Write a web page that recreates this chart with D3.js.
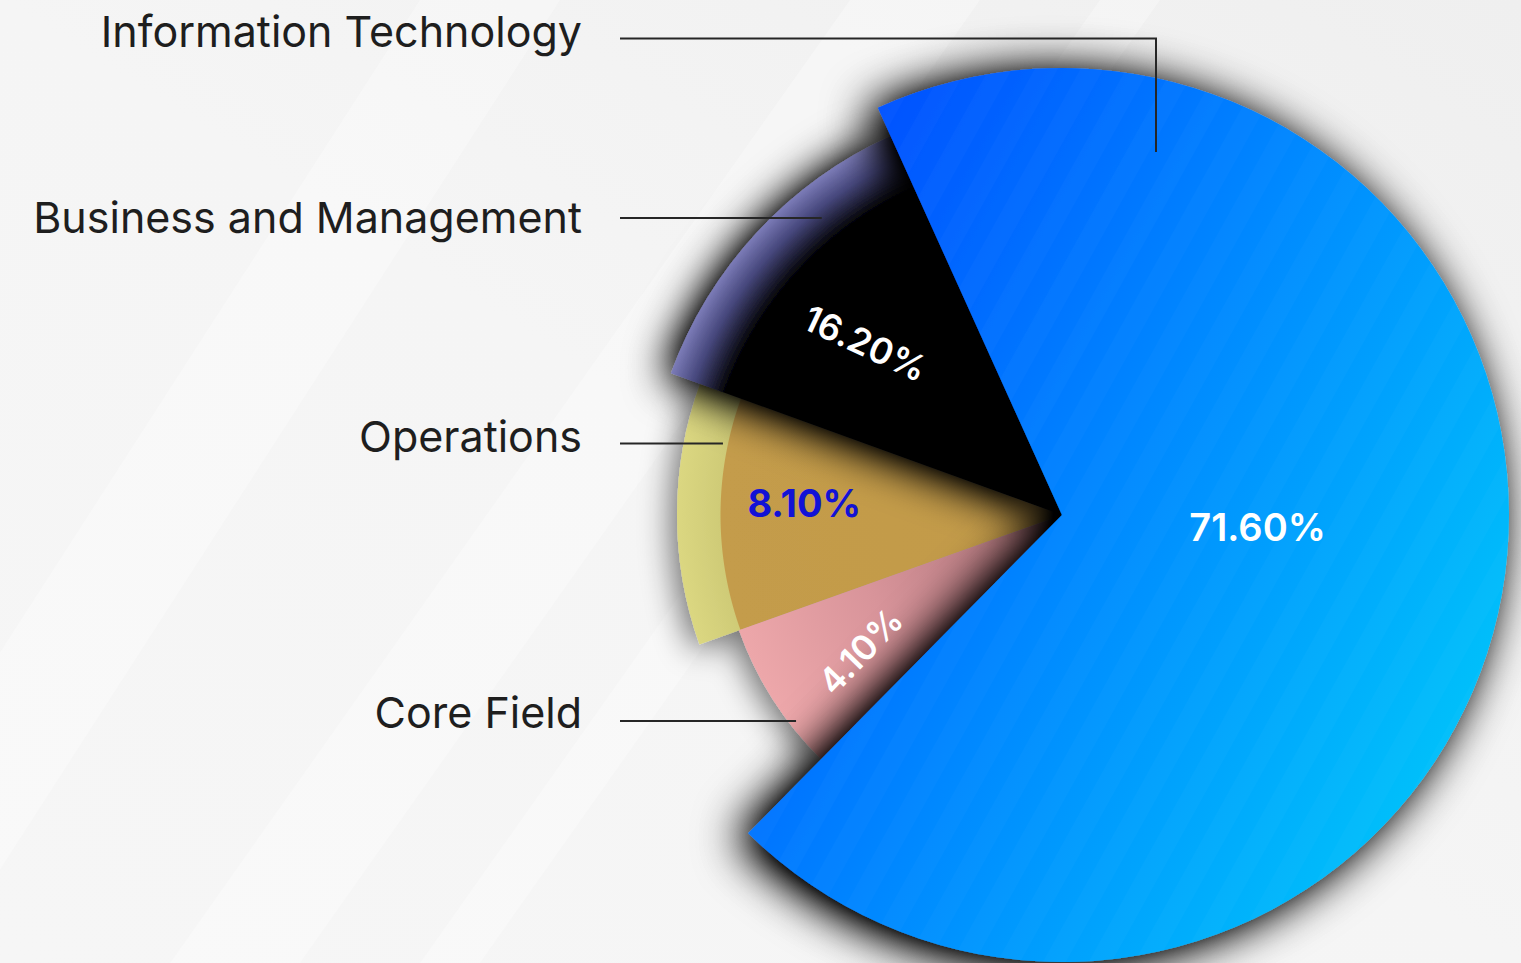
<!DOCTYPE html>
<html>
<head>
<meta charset="utf-8">
<script src="https://cdn.jsdelivr.net/npm/d3@7"></script>
<style>
  html, body { margin: 0; padding: 0; overflow: hidden; background: #f4f4f4; }
  svg { display: block; }
</style>
</head>
<body>
<svg id="chart"></svg>
<script>
//// DATA (slices listed clockwise, starting at the big blue one)

const categories = ["Information Technology", "Core Field", "Operations", "Business and Management"]
// the percentages printed on the slices
const shares = [71.6, 4.1, 8.1, 16.2]
const sweeps = [69.15, 7.15, 10.99, 12.71]
// the order in which the outer labels are stacked down the left side
const labelOrder = ["Information Technology", "Business and Management", "Operations", "Core Field"]

//// LAYOUT

const W = 1521, H = 963
const cx = 1062, cy = 515
const startDeg = -24.33
const rad = deg => deg * Math.PI / 180

// every slice has its own radius
const radius = d3.scaleOrdinal()
  .domain(categories)
  .range([447, 343, 385, 416])

// where the percentage sits (polar, around the centre) and how it is tilted
const valueLabel = {
  "Information Technology":  {deg: 93.5,  r: 196, tilt: 0,   color: "#fff",    size: 38, weight: 600},
  "Core Field":              {deg: -124,  r: 243, tilt: -46, color: "#fff",    size: 35, weight: 600},
  "Operations":              {deg: -87.3, r: 258, tilt: 0,   color: "#1212d6", size: 38, weight: 700},
  "Business and Management": {deg: -48.9, r: 261, tilt: 25,  color: "#fff",    size: 36, weight: 600}
}

// leader lines: y of the horizontal run and how deep into the slice it goes
const leader = {
  "Information Technology":  {y: 38.5, elbowX: 1156, endY: 152, textY: 47},
  "Business and Management": {y: 218,  endR: 382, textY: 233},
  "Operations":              {y: 443.5, endR: 346.5, textY: 452},
  "Core Field":              {y: 721,  endR: 336.4, textY: 728}
}

const svg = d3.select("#chart").attr("width", W).attr("height", H)
const defs = svg.append("defs")

//// BACKGROUND

const bg = defs.append("linearGradient").attr("id", "bg")
  .attr("x1", 0).attr("y1", 1).attr("x2", 1).attr("y2", 0)
bg.append("stop").attr("offset", 0).attr("stop-color", "#f6f6f6")
bg.append("stop").attr("offset", 0.5).attr("stop-color", "#f5f5f5")
bg.append("stop").attr("offset", 1).attr("stop-color", "#efefef")

svg.append("rect").attr("width", W).attr("height", H).attr("fill", "url(#bg)")

// faint light streaks running up to the right
const streaks = [
  [[170, 963], [300, 963], [980, 0], [850, 0]],
  [[420, 963], [480, 963], [1160, 0], [1100, 0]],
  [[-200, 963], [-60, 963], [560, 0], [420, 0]]
]
svg.selectAll(".streak")
  .data(streaks)
  .join("path")
  .attr("class", "streak")
  .attr("d", d => d3.line()(d) + "Z")
  .attr("fill", "#ffffff")
  .attr("opacity", 0.3)

//// GRADIENTS, PATTERNS AND SHADOWS

// blue slice: linear gradient roughly perpendicular to its stripes
const u = [Math.cos(rad(29)), Math.sin(rad(29))]
const itGrad = defs.append("linearGradient").attr("id", "itGrad")
  .attr("gradientUnits", "userSpaceOnUse")
  .attr("x1", -360 * u[0]).attr("y1", -360 * u[1])
  .attr("x2", 500 * u[0]).attr("y2", 500 * u[1])
itGrad.append("stop").attr("offset", 0).attr("stop-color", "#0052ff")
itGrad.append("stop").attr("offset", 0.45).attr("stop-color", "#0088ff")
itGrad.append("stop").attr("offset", 1).attr("stop-color", "#00c6fa")

const stripes = defs.append("pattern").attr("id", "stripes")
  .attr("patternUnits", "userSpaceOnUse")
  .attr("width", 40).attr("height", 40)
  .attr("patternTransform", "rotate(29)")
stripes.append("rect").attr("width", 20).attr("height", 40)
  .attr("fill", "#ffffff").attr("opacity", 0.02)

// business slice: black core with a slate-blue rim
const bizGrad = defs.append("radialGradient").attr("id", "bizGrad")
  .attr("gradientUnits", "userSpaceOnUse")
  .attr("cx", 0).attr("cy", 0).attr("r", radius("Business and Management"))
bizGrad.append("stop").attr("offset", 0).attr("stop-color", "#000")
bizGrad.append("stop").attr("offset", 0.86).attr("stop-color", "#000")
bizGrad.append("stop").attr("offset", 0.94).attr("stop-color", "#46477c")
bizGrad.append("stop").attr("offset", 1).attr("stop-color", "#7c7cb8")

// operations slice: ochre inside, pale yellow outer ring
const opsR = radius("Operations")
const opsGrad = defs.append("radialGradient").attr("id", "opsGrad")
  .attr("gradientUnits", "userSpaceOnUse")
  .attr("cx", 0).attr("cy", 0).attr("r", opsR)
opsGrad.append("stop").attr("offset", 0).attr("stop-color", "#c29a48")
opsGrad.append("stop").attr("offset", 341 / opsR).attr("stop-color", "#c49c4b")
opsGrad.append("stop").attr("offset", 342 / opsR).attr("stop-color", "#cfcb77")
opsGrad.append("stop").attr("offset", 1).attr("stop-color", "#dbd781")

const coreGrad = defs.append("radialGradient").attr("id", "coreGrad")
  .attr("gradientUnits", "userSpaceOnUse")
  .attr("cx", 0).attr("cy", 0).attr("r", radius("Core Field"))
coreGrad.append("stop").attr("offset", 0).attr("stop-color", "#a87076")
coreGrad.append("stop").attr("offset", 0.6).attr("stop-color", "#d8949a")
coreGrad.append("stop").attr("offset", 1).attr("stop-color", "#eda7aa")

// blurred alpha, pushed darker with a steeper alpha curve
function mkShadow(id, dx, dy, blur, strength) {
  const f = defs.append("filter").attr("id", id)
    .attr("x", "-30%").attr("y", "-30%").attr("width", "160%").attr("height", "160%")
  f.append("feGaussianBlur").attr("in", "SourceAlpha").attr("stdDeviation", blur).attr("result", "b")
  f.append("feOffset").attr("in", "b").attr("dx", dx).attr("dy", dy).attr("result", "o")
  f.append("feComponentTransfer").attr("in", "o").attr("result", "s")
    .append("feFuncA").attr("type", "linear").attr("slope", strength)
  const m = f.append("feMerge")
  m.append("feMergeNode").attr("in", "s")
  m.append("feMergeNode").attr("in", "SourceGraphic")
}
mkShadow("shadowBig", -11, 4, 24, 1.4)
mkShadow("shadowMid", -6, 3, 22, 1.4)
mkShadow("shadowSoft", -6, 6, 16, 0.55)

const fills = {
  "Information Technology": "url(#itGrad)",
  "Core Field": "url(#coreGrad)",
  "Operations": "url(#opsGrad)",
  "Business and Management": "url(#bizGrad)"
}

//// PIE

const rows = categories.map((name, i) => ({name, share: shares[i], sweep: sweeps[i]}))

const pie = d3.pie()
  .sort(null)
  .value(d => d.sweep)
  .startAngle(rad(startDeg))
  .endAngle(rad(startDeg) + 2 * Math.PI)

const slices = pie(rows)
const byName = new Map(slices.map(s => [s.data.name, s]))

const arc = d3.arc()
  .innerRadius(0)
  .outerRadius(d => radius(d.data.name))

const chart = svg.append("g").attr("transform", `translate(${cx},${cy})`)

// the two small slices share one soft shadow underneath
chart.append("g")
  .attr("filter", "url(#shadowSoft)")
  .selectAll("path")
  .data([byName.get("Operations"), byName.get("Core Field")])
  .join("path")
  .attr("d", arc)
  .attr("fill", d => fills[d.data.name])

chart.append("path")
  .datum(byName.get("Business and Management"))
  .attr("d", arc)
  .attr("fill", d => fills[d.data.name])
  .attr("filter", "url(#shadowMid)")

const it = byName.get("Information Technology")
chart.append("path")
  .datum(it)
  .attr("d", arc)
  .attr("fill", fills[it.data.name])
  .attr("filter", "url(#shadowBig)")
chart.append("path")
  .datum(it)
  .attr("d", arc)
  .attr("fill", "url(#stripes)")

//// LEADER LINES AND CATEGORY LABELS

const leaders = svg.append("g")
labelOrder.forEach(name => {
  const L = leader[name]
  let pts
  if (L.elbowX !== undefined) {
    pts = [[620, L.y], [L.elbowX, L.y], [L.elbowX, L.endY]]
  } else {
    const dy = L.y - cy
    const x = cx - Math.sqrt(L.endR * L.endR - dy * dy)
    pts = [[620, L.y], [x, L.y]]
  }
  leaders.append("path")
    .attr("d", d3.line()(pts))
    .attr("fill", "none")
    .attr("stroke", "#262626")
    .attr("stroke-width", 2)

  leaders.append("text")
    .attr("x", 582)
    .attr("y", L.textY)
    .attr("text-anchor", "end")
    .attr("font-family", "Inter, 'Open Sans', sans-serif")
    .attr("font-size", 43)
    .attr("font-weight", 400)
    .attr("fill", "#1e1e1e")
    .text(name)
})

//// PERCENT LABELS

chart.selectAll(".value")
  .data(slices)
  .join("text")
  .attr("class", "value")
  .attr("transform", d => {
    const v = valueLabel[d.data.name]
    const x = v.r * Math.sin(rad(v.deg))
    const y = -v.r * Math.cos(rad(v.deg))
    return `translate(${x},${y}) rotate(${v.tilt})`
  })
  .attr("text-anchor", "middle")
  .attr("dy", "0.36em")
  .attr("font-family", "Inter, 'Open Sans', sans-serif")
  .attr("font-weight", d => valueLabel[d.data.name].weight)
  .attr("font-size", d => valueLabel[d.data.name].size)
  .attr("fill", d => valueLabel[d.data.name].color)
  .text(d => d.data.share.toFixed(2) + "%")
</script>
</body>
</html>
